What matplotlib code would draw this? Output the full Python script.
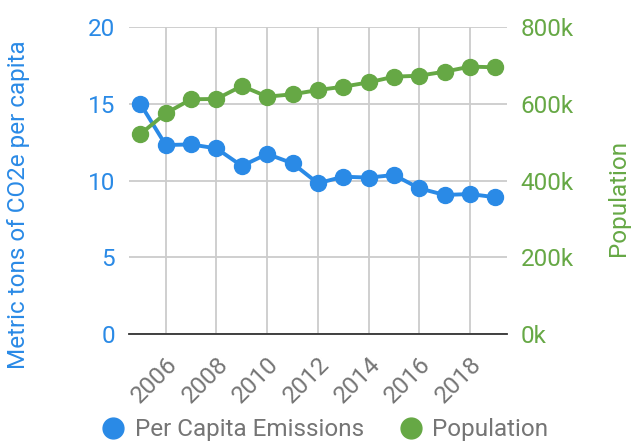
import matplotlib
matplotlib.use("Agg")
import matplotlib.pyplot as plt
import matplotlib.transforms as mtransforms
from matplotlib.lines import Line2D

plt.rcParams['font.family'] = ['Roboto', 'DejaVu Sans']

years = list(range(2005, 2020))
per_capita = [15.0, 12.32, 12.36, 12.1, 10.96, 11.74, 11.13, 9.83, 10.26, 10.2, 10.37, 9.5, 9.07, 9.13, 8.92]
population = [521600, 575500, 612000, 612800, 646600, 618800, 625000, 636000, 644800, 656000, 670800, 673400, 683900, 697000, 695300]
x_ticks = [2006, 2008, 2010, 2012, 2014, 2016, 2018]
left_ticks = [0, 5, 10, 15, 20]
right_ticks = [0, 200000, 400000, 600000, 800000]
right_labels = ['0k', '200k', '400k', '600k', '800k']

BLUE = '#2a8ae6'
GREEN = '#66a845'
GRID = '#cccccc'
GREY = '#757575'
FS = 17.5

fig = plt.figure(figsize=(6.36, 4.41), dpi=100)
ax = fig.add_axes([0.2028, 0.242, 0.5942, 0.6966])
ax2 = ax.twinx()

ax.set_xlim(2004.55, 2019.45)
ax.set_ylim(0, 20)
ax2.set_ylim(0, 800000)

ax.set_xticks(x_ticks)
ax.set_xticklabels([''] * len(x_ticks))
trans = ax.get_xaxis_transform() + mtransforms.ScaledTranslation(8 / 100, -27 / 100, fig.dpi_scale_trans)
for t in x_ticks:
    ax.text(t, 0, str(t), transform=trans, rotation=45, ha='right', va='center',
            rotation_mode='anchor', fontsize=FS, color=GREY)

ax.set_yticks(left_ticks)
ax.set_yticklabels([str(t) for t in left_ticks], fontsize=FS, color=BLUE)
ax2.set_yticks(right_ticks)
ax2.set_yticklabels(right_labels, fontsize=FS, color=GREEN)

ax.grid(True, color=GRID, linewidth=1.3)
ax.set_axisbelow(True)
for a in (ax, ax2):
    for s in a.spines.values():
        s.set_visible(False)
ax.spines['bottom'].set_visible(True)
ax.spines['bottom'].set_color('#333333')
ax.spines['bottom'].set_linewidth(1.3)
ax.tick_params(axis='y', length=0, pad=10)
ax.tick_params(axis='x', length=0)
ax2.tick_params(axis='y', length=0, pad=10)

ax.plot(years, per_capita, color=BLUE, linewidth=2.8, marker='o', markersize=11.5, zorder=3, clip_on=False)
ax2.plot(years, population, color=GREEN, linewidth=2.8, marker='o', markersize=11.5, zorder=3, clip_on=False)

ax.set_ylabel('Metric tons of CO2e per capita', fontsize=FS, color=BLUE)
ax.yaxis.set_label_coords(-0.263, 0.421)
ax2.set_ylabel('Population', fontsize=FS, color=GREEN)
ax2.yaxis.set_label_coords(1.265, 0.444)

handles = [Line2D([], [], linestyle='none', marker='o', markersize=15, color=BLUE),
           Line2D([], [], linestyle='none', marker='o', markersize=15, color=GREEN)]
leg = fig.legend(handles, ['Per Capita Emissions', 'Population'], loc='lower center',
                 bbox_to_anchor=(0.5087, -0.05), ncol=2, frameon=False, fontsize=FS,
                 handletextpad=0.3, columnspacing=1.31, handlelength=1.2)
for t in leg.get_texts():
    t.set_color(GREY)

fig.savefig('out.png', dpi=100)
